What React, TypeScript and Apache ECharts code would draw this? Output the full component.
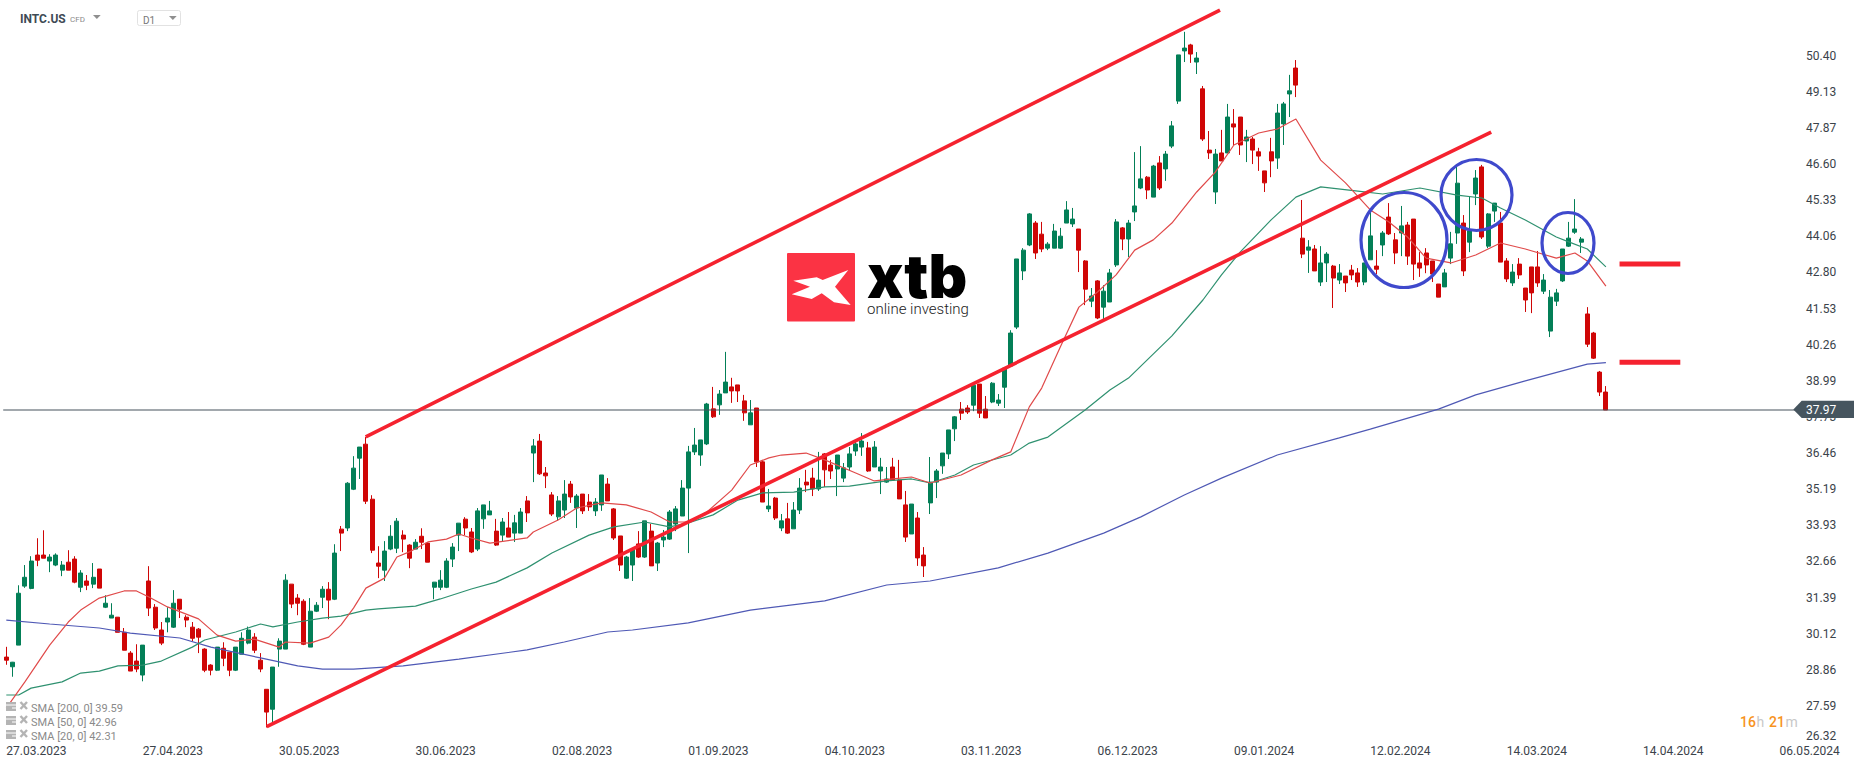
import React, { useEffect, useRef } from "react";
import * as echarts from "echarts";

const dateTicks = ["27.03.2023","27.04.2023","30.05.2023","30.06.2023","02.08.2023","01.09.2023","04.10.2023","03.11.2023","06.12.2023","09.01.2024","12.02.2024","14.03.2024","14.04.2024","06.05.2024"];
const priceTicks = [26.32,27.59,28.86,30.12,31.39,32.66,33.93,35.19,36.46,37.73,38.99,40.26,41.53,42.80,44.06,45.33,46.60,47.87,49.13,50.40];
const lastPrice = 37.97;
const legendRows = ["SMA [200, 0] 39.59","SMA [50, 0] 42.96","SMA [20, 0] 42.31"];

// R = close below open, G = close above open
const directions =
  "RGGGGRRGGG"+"RRGRGRGGRR"+"RRGRRRGGRR"+"RRRRGRRGGG"+"RRRGGGRRRG"+"GGRGRGGGRR"+
  "RGGGRRGRRG"+"GGGGRRGGGR"+"GRGGRGRRRG"+"GRGRRGGRRR"+"GGRGRGGGGG"+"GGGGRGGRRR"+
  "GRRGRGRGGR"+"RGRRGGGGGR"+"GGGRRRGRRG"+"GGGGRRGRRG"+"GGGGGGRRGG"+"GGGRRGRGGG"+
  "RGGGRGRGGG"+"GRGRRGRGRR"+"GRRRRGGGRR"+"GRGGRGRRRG"+"GRGRRGRRRR"+"RRGGGRGGRG"+
  "GRRGRRRRGG"+"GGGGGRRRR";

const highs = [
29.66,29.13,31.82,32.53,32.84,33.47,33.75,32.91,32.94,32.67,
33.05,32.84,32.35,32.18,32.60,32.39,31.47,31.19,30.70,30.32,
29.51,29.75,29.72,32.49,31.16,30.53,31.05,31.65,31.33,30.77,
30.53,30.32,29.61,29.05,29.65,29.82,29.47,29.65,30.17,30.37,
30.14,29.44,28.17,28.95,29.96,32.21,31.86,31.51,31.33,31.37,
31.23,31.79,31.93,33.26,33.90,35.44,36.35,36.67,37.02,34.98,
33.19,33.37,33.93,34.18,33.75,33.26,33.44,33.82,33.33,31.93,
32.35,32.77,33.30,34.00,34.21,33.83,34.53,34.64,34.78,34.15,
34.18,34.39,34.29,34.53,34.95,36.95,37.13,35.97,35.09,34.95,
35.51,35.48,35.02,35.02,35.02,34.88,35.69,35.58,34.53,33.55,
32.85,33.06,33.72,34.08,33.97,33.34,33.76,34.46,34.60,35.51,
36.71,37.34,36.92,38.22,38.78,38.67,40.01,39.10,38.85,38.50,
38.32,38.04,36.18,35.20,34.92,34.32,34.71,34.74,35.58,35.87,
35.94,36.50,36.46,36.22,36.39,36.11,36.67,36.85,37.16,36.85,
36.88,36.29,35.97,36.29,36.22,35.13,34.67,34.39,33.16,36.32,
35.90,36.46,37.27,37.76,38.25,38.14,38.84,38.88,38.46,38.95,
38.53,39.44,40.77,43.27,43.65,44.88,44.60,44.57,43.86,44.50,
44.36,45.30,45.06,44.32,43.23,42.25,42.53,42.35,42.92,44.67,
44.39,44.64,47.02,47.23,46.18,46.57,46.88,47.06,48.11,50.43,
51.24,50.82,50.53,49.34,47.76,47.13,47.80,48.71,48.53,48.25,
47.80,47.55,47.17,46.36,47.52,48.71,48.78,49.73,50.25,45.34,
43.93,43.76,43.72,43.51,43.06,43.09,42.67,43.06,42.95,43.13,
44.92,43.58,44.25,45.23,44.18,45.13,44.57,44.67,43.51,43.65,
43.20,42.39,42.92,44.22,46.53,44.81,45.48,46.39,46.57,44.88,
45.23,44.92,43.30,43.09,43.30,42.25,42.99,43.55,42.74,42.18,
42.22,43.62,44.57,45.37,44.04,41.58,40.71,39.34,38.81];

const bodyTops = [
29.30,29.12,31.54,32.10,32.67,32.88,32.88,32.81,32.88,32.53,
32.63,32.74,32.25,31.97,32.10,32.39,31.19,30.77,30.70,30.17,
29.44,29.16,29.72,31.97,31.05,30.25,30.67,31.19,31.33,30.70,
30.35,30.28,29.58,29.02,29.65,29.61,29.47,29.65,29.96,30.25,
30.00,29.19,28.17,28.95,29.86,32.00,31.86,31.37,31.26,30.91,
31.12,31.68,31.68,32.95,33.79,35.40,35.93,36.67,36.77,34.84,
32.60,33.02,33.54,34.07,33.58,33.23,33.33,33.54,33.30,31.93,
32.00,32.67,33.16,34.00,34.14,33.69,34.43,34.64,34.43,33.72,
34.04,33.83,34.01,34.39,34.78,36.71,36.88,35.76,34.99,34.78,
35.02,35.37,34.95,35.02,34.74,34.74,35.69,35.37,34.50,33.55,
32.81,33.06,33.27,34.08,33.72,33.30,33.51,34.39,34.50,35.23,
36.50,36.74,36.92,38.18,38.01,38.53,38.95,38.78,38.85,38.29,
37.87,38.04,36.15,34.60,34.88,34.08,34.15,34.46,35.23,35.44,
35.58,35.51,36.43,36.04,36.39,35.94,36.43,36.78,36.88,36.64,
36.67,35.97,35.55,35.97,35.51,34.64,34.67,34.18,32.88,35.44,
35.83,36.46,37.27,37.73,38.00,38.04,38.84,38.88,38.00,38.91,
38.32,39.44,40.67,43.27,43.58,44.85,44.53,44.14,43.79,44.25,
44.07,44.99,44.67,44.32,43.20,41.97,42.50,42.14,42.78,44.57,
44.36,44.53,45.13,46.08,46.14,46.53,46.64,46.95,47.94,50.43,
50.67,50.78,50.32,49.24,47.09,46.95,46.99,48.25,48.01,48.25,
47.55,47.48,47.03,46.36,47.03,48.39,48.71,49.17,49.97,44.00,
43.69,43.62,43.13,43.44,43.02,42.78,42.67,42.88,42.78,43.13,
44.08,43.02,44.18,44.74,43.94,44.43,44.46,44.67,43.13,43.48,
43.20,42.39,42.78,43.80,45.93,44.53,44.25,46.11,46.50,44.85,
45.23,44.53,43.20,42.81,43.09,42.25,42.99,42.99,42.53,41.93,
42.08,43.62,44.00,44.32,43.97,41.34,40.67,39.30,38.60];

const bodyBottoms = [
29.19,28.96,29.72,31.79,31.71,32.70,32.77,32.67,32.53,32.35,
32.35,31.93,31.75,31.82,31.86,31.72,31.05,30.67,30.17,29.54,
28.81,28.88,28.67,31.02,30.32,29.79,30.53,30.35,30.98,30.60,
29.96,30.00,28.84,28.84,28.84,29.26,28.84,28.84,29.40,29.79,
29.54,28.88,27.37,27.47,29.58,29.58,31.16,31.19,29.75,29.65,
30.91,31.40,31.30,31.33,33.65,33.83,35.19,36.28,34.77,33.05,
32.49,32.35,33.09,33.12,33.44,32.77,33.09,33.33,32.63,31.75,
31.75,31.75,32.74,33.58,33.83,32.99,33.09,34.15,34.29,33.23,
33.58,33.51,33.65,33.65,34.36,36.46,35.73,35.66,34.32,34.22,
34.46,34.92,34.53,34.43,34.57,34.43,34.64,34.78,33.48,32.53,
32.07,32.53,32.81,32.81,32.50,32.60,33.41,33.44,33.97,34.25,
35.23,36.50,36.39,36.78,37.73,38.15,38.57,38.64,38.64,37.87,
37.45,36.15,34.74,34.50,34.18,33.83,33.65,33.80,34.46,35.34,
35.20,35.20,35.87,35.83,35.90,35.58,35.97,36.53,36.67,35.83,
35.97,35.83,35.44,35.51,34.85,33.51,33.62,32.78,32.50,34.71,
35.44,36.01,36.43,37.31,37.86,37.90,38.14,37.86,37.69,38.25,
38.21,38.77,39.51,40.88,42.85,43.76,43.48,43.62,43.65,43.65,
43.65,44.53,44.50,43.58,42.21,41.79,41.20,41.58,41.76,43.06,
43.97,43.97,44.92,45.76,45.69,45.44,45.76,46.43,47.23,48.81,
50.57,50.46,50.18,47.48,46.99,45.62,46.71,46.99,47.90,47.27,
47.41,47.09,46.88,45.94,46.71,46.81,48.01,49.06,49.37,43.44,
43.58,42.85,42.46,43.13,42.60,42.53,42.43,42.71,42.46,42.46,
43.24,42.91,43.76,44.15,43.48,44.18,43.37,43.09,42.95,43.06,
42.74,41.93,42.29,43.30,44.18,42.85,43.86,45.55,44.04,43.72,
44.95,43.16,42.57,42.43,42.71,41.83,42.08,42.43,42.14,40.74,
41.79,42.50,43.72,44.21,43.86,40.28,39.79,38.60,37.97];

const lows = [
29.03,28.61,29.72,31.73,31.68,32.49,32.77,32.28,32.49,32.14,
32.35,31.89,31.58,31.65,31.72,31.72,31.02,30.67,30.17,29.54,
28.81,28.77,28.45,30.74,30.25,29.72,30.17,30.32,30.67,30.35,
29.86,29.44,28.77,28.66,28.81,28.98,28.63,28.81,29.40,29.75,
29.44,28.77,26.83,27.02,28.96,29.58,31.02,30.77,29.72,29.65,
30.88,31.02,30.63,31.30,33.02,33.72,35.16,35.55,34.67,32.95,
32.07,31.97,33.05,32.95,32.98,32.42,33.09,33.09,32.63,31.33,
31.65,31.72,32.46,33.02,33.58,32.95,33.02,33.80,34.29,33.20,
33.37,33.51,33.34,33.65,34.04,35.44,35.69,35.23,34.25,34.08,
34.18,34.71,33.83,34.32,34.43,34.25,34.43,34.78,33.41,32.32,
32.04,31.97,32.78,32.78,32.50,32.32,33.16,33.41,33.72,34.25,
32.95,36.39,36.01,36.74,37.69,37.80,38.57,38.22,38.25,37.59,
37.45,35.97,34.74,34.39,34.11,33.72,33.62,33.80,34.32,35.09,
34.95,35.13,35.27,35.55,34.95,35.44,35.83,36.36,36.36,35.80,
35.97,35.02,35.41,35.51,34.85,33.34,33.62,32.50,32.11,34.32,
34.88,35.73,36.25,36.88,37.62,37.83,37.93,37.69,37.69,38.21,
38.11,38.04,39.51,40.81,42.53,43.72,43.27,43.51,43.58,43.65,
43.62,44.53,44.39,42.81,41.65,41.58,41.16,41.16,41.76,42.99,
43.58,43.34,44.60,45.72,45.37,45.44,45.69,46.01,47.16,48.71,
50.18,50.15,49.76,47.41,46.78,45.20,46.71,46.99,47.27,46.92,
46.67,46.60,46.36,45.62,46.14,46.43,47.27,48.25,48.95,43.30,
42.78,42.85,42.32,42.46,41.55,42.39,42.11,42.53,42.29,42.35,
43.24,42.74,43.37,44.11,43.09,43.37,43.06,42.53,42.64,42.77,
42.46,41.93,42.29,43.09,43.80,42.67,43.51,45.16,43.97,43.65,
44.57,43.16,42.46,42.32,42.57,41.41,41.37,42.29,42.04,40.53,
41.62,42.46,43.69,44.15,43.48,40.18,39.76,38.46,37.97];

const sma200Idx = [0,7,15,20,28,33,41,47,51,56,64,73,84,90,97,101,110,120,132,142,149,160,168,177,183,190,196,205,215,220,231,237,245,255,258];
const sma200 = [30.60,30.46,30.32,30.14,29.97,29.65,29.27,28.99,28.88,28.88,28.99,29.23,29.55,29.83,30.18,30.25,30.50,30.95,31.27,31.83,31.97,32.43,32.95,33.65,34.22,34.99,35.58,36.39,36.99,37.30,38.00,38.50,38.99,39.58,39.63];

const sma50Idx = [0,2,4,9,12,15,18,22,25,30,32,37,41,43,47,51,54,58,60,66,70,75,79,84,88,94,98,103,107,110,114,118,122,127,132,136,142,146,149,153,156,162,165,168,170,174,178,181,188,193,196,199,204,208,212,218,222,228,234,238,241,245,250,252,255,258];
const sma50 = [27.97,27.97,28.21,28.43,28.74,28.81,28.99,29.02,29.16,29.65,29.90,30.18,30.46,30.36,30.53,30.67,30.74,30.95,30.99,31.09,31.34,31.69,31.93,32.43,32.95,33.58,33.87,34.04,33.87,34.01,34.29,34.81,35.06,35.09,35.27,35.30,35.48,35.55,35.41,35.69,36.04,36.39,36.81,37.02,37.34,37.97,38.67,39.09,40.57,41.83,42.71,43.51,44.64,45.44,45.80,45.65,45.55,45.76,45.51,45.41,45.06,44.64,44.04,43.87,43.62,42.99];

const sma20Idx = [0,3,7,10,12,15,19,21,23,26,31,34,37,40,44,45,49,52,54,56,58,61,63,65,68,71,73,75,78,84,85,89,92,96,100,104,107,110,113,117,120,123,125,129,132,137,140,143,146,149,154,159,162,165,167,170,173,176,179,182,185,188,192,195,198,202,205,208,212,216,220,223,226,229,233,237,241,245,250,253,255,258];
const sma20 = [27.51,28.43,29.72,30.53,30.95,31.37,31.62,31.62,31.41,31.06,30.64,30.07,29.86,29.93,29.65,29.83,29.79,30.00,30.43,31.02,31.72,32.07,32.81,32.99,33.34,33.44,33.62,33.48,33.30,33.48,33.69,34.11,34.53,34.71,34.64,34.39,34.04,34.04,34.39,35.16,36.04,36.29,36.39,36.46,36.22,35.76,35.48,35.55,35.62,35.41,35.69,36.22,36.50,38.08,38.74,40.18,41.58,42.11,42.71,43.58,43.94,44.53,45.62,46.32,47.27,47.69,47.83,48.18,46.74,45.94,44.99,44.57,44.04,43.30,43.13,43.41,43.83,43.62,43.30,43.48,43.20,42.32];

const channelUpper = [[57.97,37.03],[195.76,52.0]];
const channelLower = [[42.0,26.86],[239.5,47.72]];
const levelUpper = [[260.2,43.09],[270,43.09]];
const levelLower = [[260.2,39.65],[270,39.65]];

const CANDLE_GREEN = "#037f57";
const CANDLE_RED = "#cf0606";
const FONT = "Roboto";

const categories = Array.from({ length: 289 }, (_, i) => (i % 22 === 0 ? dateTicks[i / 22] : String(i)));
const isUp = (i: number) => directions[i] === "G";

function txt(text: string, x: number, y: number, fontSize: number, fill: string, fontWeight: any = 400) {
  return { type: "text", z: 50, x, y, style: { text, fill, fontFamily: FONT, fontSize, fontWeight, align: "left", verticalAlign: "middle" } };
}

function legendIcon(y: number) {
  return [
    { type: "rect", z: 40, shape: { x: 6, y: y - 5, width: 10, height: 9 }, style: { fill: "#b4b4b4" } },
    { type: "line", z: 41, shape: { x1: 6, y1: y - 2, x2: 16, y2: y - 2 }, style: { stroke: "#ffffff", lineWidth: 1 } },
    { type: "line", z: 41, shape: { x1: 12, y1: y + 1, x2: 16, y2: y + 1 }, style: { stroke: "#ffffff", lineWidth: 1 } },
    { type: "line", z: 41, shape: { x1: 20.5, y1: y - 5, x2: 27, y2: y + 2 }, style: { stroke: "#b4b4b4", lineWidth: 2.4 } },
    { type: "line", z: 41, shape: { x1: 27, y1: y - 5, x2: 20.5, y2: y + 2 }, style: { stroke: "#b4b4b4", lineWidth: 2.4 } },
  ];
}

function ellipse(cx: number, cy: number, rx: number, ry: number) {
  return { type: "ellipse", z: 30, shape: { cx, cy, rx, ry }, style: { fill: "transparent", stroke: "#3f49cc", lineWidth: 3.2 } };
}

function lineSeries(idx: number[], values: number[], color: string, width = 1.2) {
  return {
    type: "line", xAxisIndex: 1, yAxisIndex: 0, showSymbol: false, silent: true,
    data: idx.map((x, i) => [x, values[i]]),
    lineStyle: { color, width }, z: 5,
  };
}

function pairSeries(data: number[][], color: string, width: number, z = 6) {
  return {
    type: "line", xAxisIndex: 1, yAxisIndex: 0, showSymbol: false, silent: true,
    data, lineStyle: { color, width, cap: "butt" }, z,
  };
}

export default function App() {
  const ref = useRef<HTMLDivElement>(null);
  useEffect(() => {
    const chart = echarts.init(ref.current!, null, { renderer: "svg" });
    const option: any = {
      animation: false,
      backgroundColor: "#ffffff",
      grid: { left: 3.2, top: 0, width: 1791.8, height: 745 },
      xAxis: [
        {
          type: "category", data: categories, boundaryGap: true,
          axisLine: { show: false }, axisTick: { show: false }, splitLine: { show: false },
          axisLabel: {
            interval: (i: number) => i % 22 === 0,
            align: "left", margin: 0, color: "#3b434a",
            fontFamily: FONT, fontSize: 12, lineHeight: 12,
          },
        },
        { type: "value", min: -0.5, max: 288.5, show: false },
      ],
      yAxis: {
        type: "value", position: "right", min: 26.215, max: 52.357, scale: true,
        axisLine: { show: false }, axisTick: { show: false }, splitLine: { show: false },
        axisLabel: {
          customValues: priceTicks,
          formatter: (v: number) => v.toFixed(2),
          verticalAlignMinLabel: "bottom",
          margin: 11, color: "#3b434a", fontFamily: FONT, fontSize: 12, align: "left",
        },
      },
      series: [
        {
          type: "candlestick", xAxisIndex: 0, yAxisIndex: 0, barWidth: 4.6, silent: true, z: 3,
          data: highs.map((h, i) => {
            const open = isUp(i) ? bodyBottoms[i] : bodyTops[i];
            const close = isUp(i) ? bodyTops[i] : bodyBottoms[i];
            return [open, close, lows[i], h];
          }),
          itemStyle: {
            color: CANDLE_GREEN, color0: CANDLE_RED,
            borderColor: CANDLE_GREEN, borderColor0: CANDLE_RED, borderWidth: 1,
          },
        },
        lineSeries(sma200Idx, sma200, "#4f59b5"),
        lineSeries(sma50Idx, sma50, "#2f9170"),
        lineSeries(sma20Idx, sma20, "#e04a4a"),
        pairSeries([[-0.5, lastPrice], [288.5, lastPrice]], "#46535d", 1.2, 4),
        pairSeries(channelUpper, "#f5222f", 3.6),
        pairSeries(channelLower, "#f5222f", 3.6),
        pairSeries(levelUpper, "#f5222f", 5),
        pairSeries(levelLower, "#f5222f", 5),
      ],
      graphic: [
        // header
        txt("INTC.US", 20, 19, 12, "#3e4b55", 700),
        txt("CFD", 70, 19.5, 8, "#8a8a8a"),
        { type: "polygon", z: 40, shape: { points: [[93, 15], [100.7, 15], [96.85, 19]] }, style: { fill: "#8f8f8f" } },
        { type: "rect", z: 40, shape: { x: 137.5, y: 10.5, width: 43, height: 15, r: 2 }, style: { fill: "#fff", stroke: "#e2e2e2", lineWidth: 1 } },
        txt("D1", 143, 20.5, 10, "#777777"),
        { type: "polygon", z: 41, shape: { points: [[169, 16], [176.7, 16], [172.85, 20]] }, style: { fill: "#8f8f8f" } },
        // logo
        { type: "rect", z: 40, shape: { x: 787, y: 253, width: 68, height: 68.5, r: 1 }, style: { fill: "#fb3344" } },
        { type: "polygon", z: 41, shape: { points: [[793.3, 280.7], [816.7, 277.3], [822.7, 280], [848.3, 270], [835, 286.7], [850.7, 305], [834, 302.3], [821.7, 293.3], [811.7, 299], [791.7, 294.3], [810, 286.7]] }, style: { fill: "#ffffff" } },
        { type: "text", z: 41, x: 867, y: 246, style: { text: "xtb", fill: "#000000", fontFamily: "Inter", fontSize: 60, fontWeight: 900, align: "left", verticalAlign: "top" } },
        { type: "text", z: 41, x: 867, y: 301, style: { text: "online investing", fill: "#222222", fontFamily: FONT, fontSize: 15, fontWeight: 300, align: "left", verticalAlign: "top" } },
        // circles
        ellipse(1404, 240, 43, 47.5),
        ellipse(1476.5, 195, 35.5, 35.5),
        ellipse(1568, 243, 26, 30.5),
        // last price tag
        { type: "polygon", z: 45, shape: { points: [[1793.3, 409.5], [1801.7, 400.7], [1854, 400.7], [1854, 418], [1801.7, 418]] }, style: { fill: "#46555f" } },
        txt(lastPrice.toFixed(2), 1806, 410, 12, "#ffffff"),
        // legend
        ...legendRows.flatMap((row, i) => [...legendIcon(707 + 14 * i), txt(row, 31, 708 + 14 * i, 11, "#8a8a8a")]),
        // countdown
        txt("16", 1740, 722, 14, "#f7931e", 500),
        txt("h", 1756.5, 722, 14, "#c8c8c8"),
        txt("21", 1769, 722, 14, "#f7931e", 500),
        txt("m", 1785.5, 722, 14, "#c8c8c8"),
      ],
    };
    chart.setOption(option);
    return () => chart.dispose();
  }, []);
  return <div ref={ref} style={{ position: "fixed", left: 0, top: 0, width: 1866, height: 767, background: "#fff" }} />;
}
